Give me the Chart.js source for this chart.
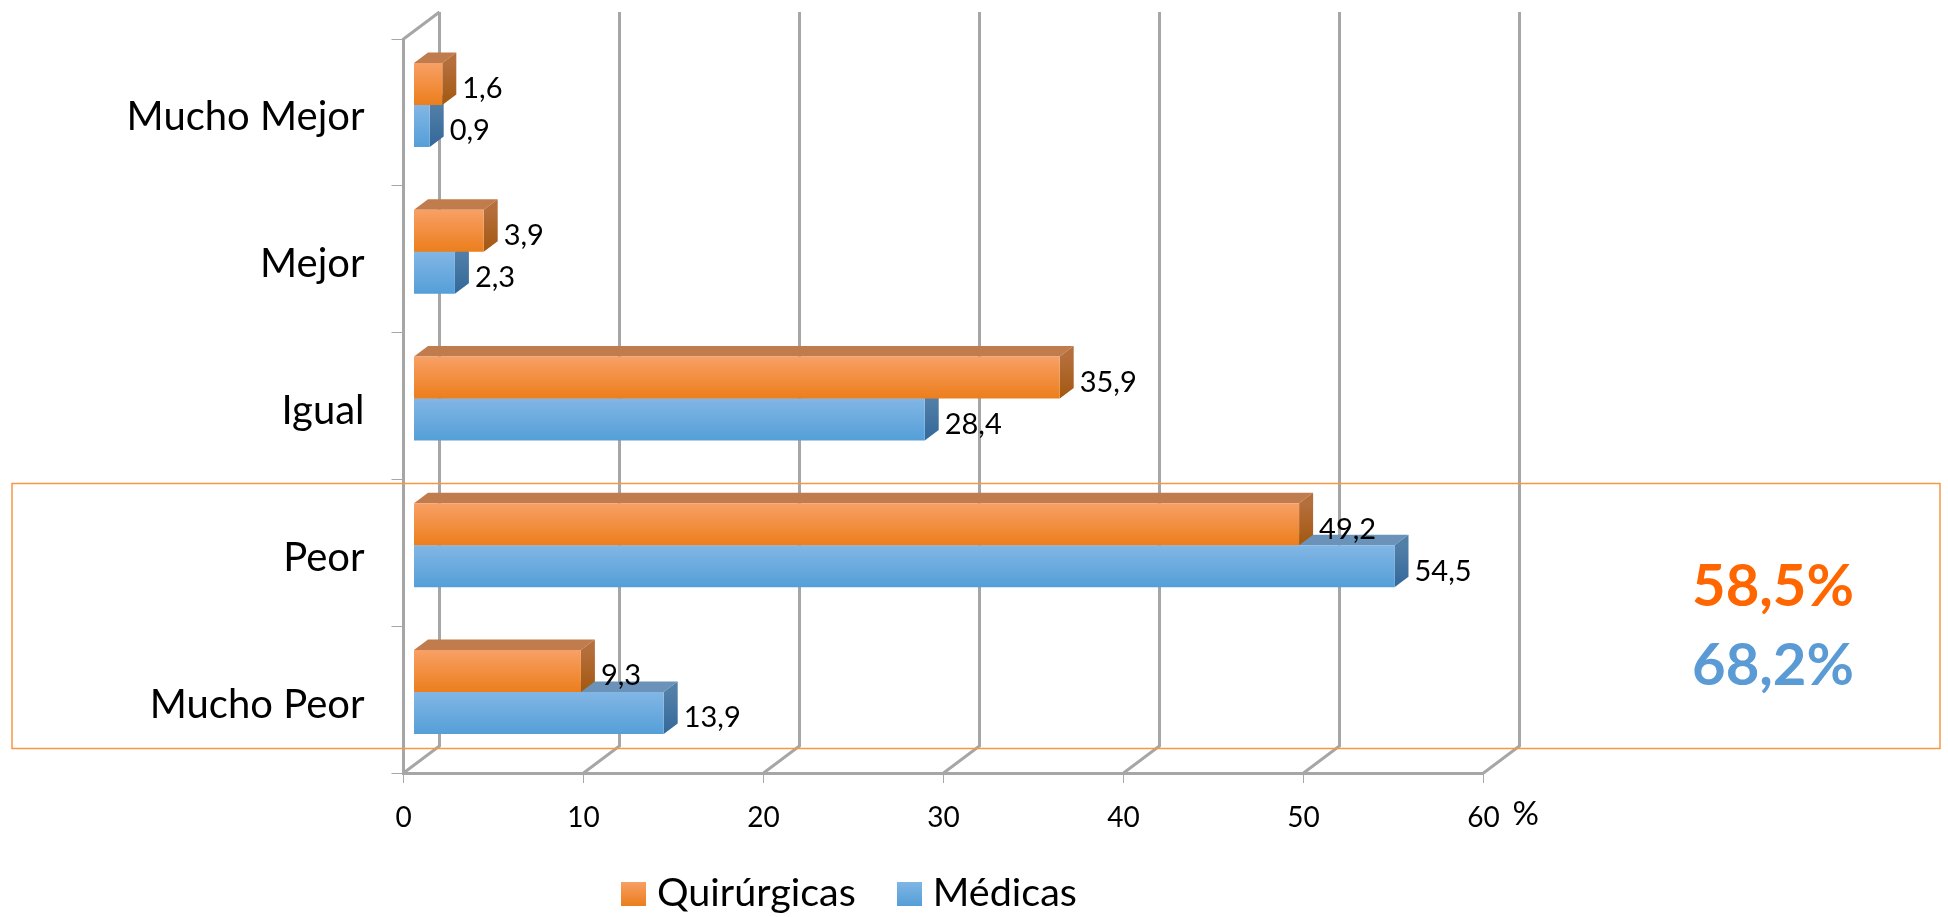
<!DOCTYPE html>
<html><head><meta charset="utf-8">
<style>html,body{margin:0;padding:0;background:#fff}canvas{display:block}</style>
<script src="https://cdn.jsdelivr.net/npm/chart.js@4"></script>
</head><body><canvas id="c" width="1948" height="917"></canvas>
<script>
const categories = ['Mucho Mejor','Mejor','Igual','Peor','Mucho Peor'];
const quirurgicas = [1.6,3.9,35.9,49.2,9.3];
const medicas = [0.9,2.3,28.4,54.5,13.9];
const seriesNames = ['Quirúrgicas','Médicas'];
const totals = ['58,5%','68,2%'];
const axisUnit = '%';
const FONT='Lato, "Open Sans", sans-serif';
const GRID='#a6a6a6';
const ORANGE={top:'#F8A066',bot:'#EC7E1C',sideT:'#B56F3C',sideB:'#A3570F',cap:'#C07C4C'};
const BLUE={top:'#82B6E5',bot:'#549FD8',sideT:'#527FA8',sideB:'#33689A',cap:'#6B92B9'};
const PAL=[ORANGE,BLUE];
const BAR_H=42, WALL={dx:36,dy:-27}, SHIFT={dx:10,dy:-7.5}, DEPTH={dx:14,dy:-10.5};

function swatch(p){
  const c=document.createElement('canvas');c.width=25;c.height=24;
  const x=c.getContext('2d'),g=x.createLinearGradient(0,0,0,24);
  g.addColorStop(0,p.top);g.addColorStop(1,p.bot);x.fillStyle=g;x.fillRect(0,0,25,24);return c;
}
function faceFill(ctx){
  const {chart,dataIndex,datasetIndex}=ctx,p=PAL[datasetIndex],y=chart.scales.y;
  if(!y||dataIndex===undefined) return p.bot;
  const c=y.getPixelForValue(dataIndex);
  if(!Number.isFinite(c)) return p.bot;
  const t=datasetIndex===0?c-BAR_H:c;
  const g=chart.ctx.createLinearGradient(0,t,0,t+BAR_H);
  g.addColorStop(0,p.top);g.addColorStop(1,p.bot);return g;
}
const threeD={
  id:'threeD',
  beforeDatasetsDraw(chart){
    const {ctx,scales:{x,y}}=chart,{top,bottom,left}=chart.chartArea;
    ctx.save();ctx.strokeStyle=GRID;ctx.lineWidth=3;ctx.lineJoin='miter';
    x.ticks.forEach(t=>{
      const px=x.getPixelForValue(t.value);
      ctx.beginPath();ctx.moveTo(px,bottom);
      ctx.lineTo(px+WALL.dx,bottom+WALL.dy);
      ctx.lineTo(px+WALL.dx,top+WALL.dy);
      ctx.stroke();
    });
    ctx.beginPath();ctx.moveTo(left,top);ctx.lineTo(left+WALL.dx,top+WALL.dy);ctx.stroke();
    ctx.restore();
  },
  beforeDatasetDraw(chart,args){
    const {ctx}=chart,p=PAL[args.index];
    ctx.save();ctx.translate(SHIFT.dx,SHIFT.dy);
    args.meta.data.forEach(el=>{
      const t=el.y-el.height/2,b=el.y+el.height/2,xr=el.x,xl=el.base;
      ctx.fillStyle=p.cap;ctx.beginPath();
      ctx.moveTo(xl,t);ctx.lineTo(xl+DEPTH.dx,t+DEPTH.dy);ctx.lineTo(xr+DEPTH.dx,t+DEPTH.dy);ctx.lineTo(xr,t);ctx.closePath();ctx.fill();
      const g=ctx.createLinearGradient(0,t,0,b);g.addColorStop(0,p.sideT);g.addColorStop(1,p.sideB);
      ctx.fillStyle=g;ctx.beginPath();
      ctx.moveTo(xr,t);ctx.lineTo(xr+DEPTH.dx,t+DEPTH.dy);ctx.lineTo(xr+DEPTH.dx,b+DEPTH.dy);ctx.lineTo(xr,b);ctx.closePath();ctx.fill();
    });
  },
  afterDatasetDraw(chart){chart.ctx.restore();},
  afterDatasetsDraw(chart){
    const {ctx}=chart;
    ctx.save();ctx.fillStyle='#000';ctx.font='29px '+FONT;ctx.textBaseline='middle';ctx.textAlign='left';
    chart.getSortedVisibleDatasetMetas().forEach(m=>{
      m.data.forEach((el,i)=>{
        const v=chart.data.datasets[m.index].data[i];
        ctx.fillText(String(v).replace('.',','),el.x+SHIFT.dx+DEPTH.dx+6,el.y+SHIFT.dy+5);
      });
    });
    ctx.restore();
  },
  afterDraw(chart){
    const {ctx,scales:{x}}=chart;
    ctx.save();
    ctx.strokeStyle='#F79646';ctx.lineWidth=1.5;ctx.strokeRect(12,483.5,1928,265);
    ctx.fillStyle='#000';ctx.font='33px '+FONT;ctx.textBaseline='middle';ctx.textAlign='left';
    ctx.fillText(axisUnit,x.getPixelForValue(60)+29,814);
    ctx.font='bold 58px '+FONT;ctx.textAlign='center';
    ctx.fillStyle='#FF6600';ctx.fillText(totals[0],1773,587);
    ctx.fillStyle='#5B9BD5';ctx.fillText(totals[1],1773,666);
    ctx.restore();
  },
  afterLayout(chart){
    const l=chart.legend;const pad=l.options.labels.padding;
    l.left=629.75-pad;l.right=1900;
    l.top=894-pad-20;l.bottom=l.top+l.height;
    l.adjustHitBoxes&&l.adjustHitBoxes();
    chart.scales.x.bottom=917;
  }
};
new Chart(document.getElementById('c'),{
  type:'bar',
  data:{labels:categories,datasets:[
    {label:seriesNames[0],data:quirurgicas,backgroundColor:faceFill,pointStyle:swatch(ORANGE)},
    {label:seriesNames[1],data:medicas,backgroundColor:faceFill,pointStyle:swatch(BLUE)}
  ]},
  options:{
    indexAxis:'y',responsive:false,animation:false,
    categoryPercentage:84/146.8,barPercentage:1,
    layout:{padding:{top:39,right:464.5,left:0,bottom:0}},
    scales:{
      x:{min:0,max:60,position:'bottom',
        afterFit(s){s.height=144-(s.chart.legend?s.chart.legend.height:0);},
        border:{display:true,color:GRID,width:3},
        grid:{drawOnChartArea:false,drawTicks:true,tickLength:10,tickColor:GRID,tickWidth:1,color:GRID},
        ticks:{stepSize:10,color:'#000',font:{family:FONT,size:28},padding:18,maxRotation:0}},
      y:{position:'left',offset:true,
        afterFit(s){s.width=403.5;s.paddingTop=0;s.paddingBottom=0;},
        border:{display:true,color:GRID,width:3},
        grid:{offset:true,drawOnChartArea:false,drawTicks:true,tickLength:12,tickColor:GRID,tickWidth:1,color:GRID},
        ticks:{color:'#000',font:{family:FONT,size:40},padding:27,labelOffset:5}}
    },
    plugins:{
      tooltip:{enabled:false},
      legend:{display:true,position:'bottom',align:'start',
        labels:{usePointStyle:true,pointStyleWidth:7.5,boxHeight:24,padding:49.75,color:'#000',font:{family:FONT,size:39.5}}}
    }
  },
  plugins:[threeD]
});
</script></body></html>
